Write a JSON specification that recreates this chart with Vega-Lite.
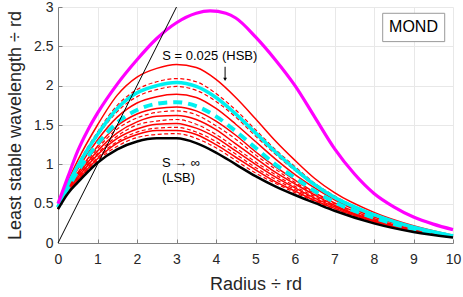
{
  "$schema": "https://vega.github.io/schema/vega-lite/v6.json",
  "width": 395,
  "height": 236,
  "autosize": {"type": "none"},
  "padding": {"left": 58, "top": 7, "right": 10, "bottom": 54},
  "background": "white",
  "datasets": {
    "curves": [
      {"x": 0, "HSB": 0.47, "d81": 0.46, "cy": 0.46, "d70": 0.46, "s60": 0.45, "cyd": 0.45, "s43": 0.45, "d37": 0.45, "s31": 0.44, "d25": 0.44, "s20": 0.44, "d15": 0.44, "s11": 0.43, "d06": 0.43, "LSB": 0.43},
      {"x": 0.25, "HSB": 0.78, "d81": 0.75, "cy": 0.74, "d70": 0.74, "s60": 0.72, "cyd": 0.70, "s43": 0.69, "d37": 0.69, "s31": 0.68, "d25": 0.67, "s20": 0.66, "d15": 0.65, "s11": 0.65, "d06": 0.64, "LSB": 0.63},
      {"x": 0.5, "HSB": 1.05, "d81": 1.00, "cy": 0.98, "d70": 0.97, "s60": 0.94, "cyd": 0.91, "s43": 0.89, "d37": 0.87, "s31": 0.86, "d25": 0.84, "s20": 0.83, "d15": 0.81, "s11": 0.80, "d06": 0.79, "LSB": 0.77},
      {"x": 1, "HSB": 1.50, "d81": 1.41, "cy": 1.38, "d70": 1.36, "s60": 1.31, "cyd": 1.26, "s43": 1.23, "d37": 1.20, "s31": 1.17, "d25": 1.14, "s20": 1.12, "d15": 1.09, "s11": 1.07, "d06": 1.05, "LSB": 1.02},
      {"x": 1.5, "HSB": 1.88, "d81": 1.75, "cy": 1.71, "d70": 1.67, "s60": 1.60, "cyd": 1.53, "s43": 1.49, "d37": 1.45, "s31": 1.40, "d25": 1.36, "s20": 1.33, "d15": 1.29, "s11": 1.27, "d06": 1.23, "LSB": 1.19},
      {"x": 2, "HSB": 2.11, "d81": 1.95, "cy": 1.91, "d70": 1.86, "s60": 1.78, "cyd": 1.69, "s43": 1.64, "d37": 1.59, "s31": 1.54, "d25": 1.50, "s20": 1.45, "d15": 1.41, "s11": 1.38, "d06": 1.34, "LSB": 1.29},
      {"x": 2.5, "HSB": 2.22, "d81": 2.05, "cy": 2.00, "d70": 1.95, "s60": 1.86, "cyd": 1.77, "s43": 1.71, "d37": 1.66, "s31": 1.61, "d25": 1.55, "s20": 1.51, "d15": 1.46, "s11": 1.43, "d06": 1.38, "LSB": 1.33},
      {"x": 3, "HSB": 2.27, "d81": 2.09, "cy": 2.04, "d70": 1.99, "s60": 1.89, "cyd": 1.79, "s43": 1.73, "d37": 1.68, "s31": 1.62, "d25": 1.57, "s20": 1.52, "d15": 1.47, "s11": 1.43, "d06": 1.39, "LSB": 1.33},
      {"x": 3.5, "HSB": 2.23, "d81": 2.05, "cy": 1.99, "d70": 1.94, "s60": 1.85, "cyd": 1.74, "s43": 1.68, "d37": 1.63, "s31": 1.57, "d25": 1.51, "s20": 1.46, "d15": 1.41, "s11": 1.38, "d06": 1.33, "LSB": 1.27},
      {"x": 4, "HSB": 2.08, "d81": 1.90, "cy": 1.85, "d70": 1.80, "s60": 1.71, "cyd": 1.61, "s43": 1.55, "d37": 1.49, "s31": 1.44, "d25": 1.38, "s20": 1.34, "d15": 1.29, "s11": 1.25, "d06": 1.21, "LSB": 1.15},
      {"x": 4.5, "HSB": 1.85, "d81": 1.69, "cy": 1.64, "d70": 1.60, "s60": 1.51, "cyd": 1.42, "s43": 1.37, "d37": 1.32, "s31": 1.26, "d25": 1.21, "s20": 1.17, "d15": 1.13, "s11": 1.09, "d06": 1.05, "LSB": 1.00},
      {"x": 5, "HSB": 1.58, "d81": 1.44, "cy": 1.40, "d70": 1.36, "s60": 1.29, "cyd": 1.21, "s43": 1.16, "d37": 1.12, "s31": 1.08, "d25": 1.03, "s20": 1.00, "d15": 0.96, "s11": 0.93, "d06": 0.89, "LSB": 0.85},
      {"x": 5.5, "HSB": 1.30, "d81": 1.19, "cy": 1.16, "d70": 1.13, "s60": 1.07, "cyd": 1.00, "s43": 0.97, "d37": 0.94, "s31": 0.90, "d25": 0.87, "s20": 0.84, "d15": 0.81, "s11": 0.78, "d06": 0.76, "LSB": 0.72},
      {"x": 6, "HSB": 1.05, "d81": 0.97, "cy": 0.94, "d70": 0.92, "s60": 0.87, "cyd": 0.83, "s43": 0.80, "d37": 0.77, "s31": 0.75, "d25": 0.72, "s20": 0.70, "d15": 0.68, "s11": 0.66, "d06": 0.64, "LSB": 0.61},
      {"x": 6.5, "HSB": 0.82, "d81": 0.76, "cy": 0.74, "d70": 0.73, "s60": 0.70, "cyd": 0.66, "s43": 0.64, "d37": 0.63, "s31": 0.61, "d25": 0.59, "s20": 0.57, "d15": 0.56, "s11": 0.54, "d06": 0.53, "LSB": 0.51},
      {"x": 7, "HSB": 0.64, "d81": 0.60, "cy": 0.58, "d70": 0.57, "s60": 0.55, "cyd": 0.52, "s43": 0.51, "d37": 0.50, "s31": 0.48, "d25": 0.47, "s20": 0.46, "d15": 0.44, "s11": 0.44, "d06": 0.42, "LSB": 0.41},
      {"x": 8, "HSB": 0.39, "d81": 0.36, "cy": 0.36, "d70": 0.35, "s60": 0.33, "cyd": 0.32, "s43": 0.31, "d37": 0.30, "s31": 0.29, "d25": 0.29, "s20": 0.28, "d15": 0.27, "s11": 0.27, "d06": 0.26, "LSB": 0.25},
      {"x": 9, "HSB": 0.22, "d81": 0.21, "cy": 0.20, "d70": 0.20, "s60": 0.19, "cyd": 0.18, "s43": 0.17, "d37": 0.17, "s31": 0.17, "d25": 0.16, "s20": 0.16, "d15": 0.15, "s11": 0.15, "d06": 0.15, "LSB": 0.14},
      {"x": 10, "HSB": 0.10, "d81": 0.09, "cy": 0.09, "d70": 0.09, "s60": 0.09, "cyd": 0.09, "s43": 0.08, "d37": 0.08, "s31": 0.08, "d25": 0.08, "s20": 0.08, "d15": 0.07, "s11": 0.07, "d06": 0.07, "LSB": 0.07}
    ],
    "mond": [
      {"x": 0, "y": 0.50}, {"x": 0.25, "y": 0.84}, {"x": 0.5, "y": 1.17}, {"x": 0.75, "y": 1.43},
      {"x": 1, "y": 1.65}, {"x": 1.5, "y": 2.02}, {"x": 2, "y": 2.33}, {"x": 2.5, "y": 2.60},
      {"x": 3, "y": 2.80}, {"x": 3.5, "y": 2.92}, {"x": 3.85, "y": 2.95}, {"x": 4.25, "y": 2.92},
      {"x": 4.5, "y": 2.86}, {"x": 5, "y": 2.62}, {"x": 5.5, "y": 2.33}, {"x": 6, "y": 2.00},
      {"x": 6.5, "y": 1.60}, {"x": 7, "y": 1.20}, {"x": 7.5, "y": 0.88}, {"x": 8, "y": 0.63},
      {"x": 8.5, "y": 0.46}, {"x": 9, "y": 0.33}, {"x": 9.5, "y": 0.24}, {"x": 10, "y": 0.17}
    ],
    "diag": [{"x": 0, "y": 0}, {"x": 3, "y": 3}]
  },
  "layer": [
    {
      "data": {"name": "curves"},
      "transform": [
        {"fold": ["HSB", "d81", "cy", "d70", "s60", "cyd", "s43", "d37", "s31", "d25", "s20", "d15", "s11", "d06", "LSB"], "as": ["curve", "y"]},
        {"filter": {"field": "curve", "oneOf": ["HSB", "s60", "s43", "s31", "s20", "s11"]}}
      ],
      "mark": {"type": "line", "color": "#ff0000", "strokeWidth": 1.5, "interpolate": "monotone"},
      "encoding": {
        "x": {"field": "x", "type": "quantitative", "scale": {"domain": [0, 10], "nice": false}, "title": "Radius ÷ rd"},
        "y": {"field": "y", "type": "quantitative", "scale": {"domain": [0, 3], "nice": false}, "title": "Least stable wavelength ÷ rd"},
        "detail": {"field": "curve"}
      }
    },
    {
      "data": {"name": "curves"},
      "transform": [
        {"fold": ["HSB", "d81", "cy", "d70", "s60", "cyd", "s43", "d37", "s31", "d25", "s20", "d15", "s11", "d06", "LSB"], "as": ["curve", "y"]},
        {"filter": {"field": "curve", "oneOf": ["d81", "d70", "d37", "d25", "d15", "d06"]}}
      ],
      "mark": {"type": "line", "color": "#ff0000", "strokeWidth": 1.2, "strokeDash": [4, 2.5], "interpolate": "monotone"},
      "encoding": {
        "x": {"field": "x", "type": "quantitative"},
        "y": {"field": "y", "type": "quantitative"},
        "detail": {"field": "curve"}
      }
    },
    {
      "data": {"name": "curves"},
      "transform": [
        {"fold": ["cy"], "as": ["curve", "y"]}
      ],
      "mark": {"type": "line", "color": "#00f0f0", "strokeWidth": 3.5, "interpolate": "monotone"},
      "encoding": {
        "x": {"field": "x", "type": "quantitative"},
        "y": {"field": "y", "type": "quantitative"}
      }
    },
    {
      "data": {"name": "curves"},
      "transform": [
        {"fold": ["cyd"], "as": ["curve", "y"]}
      ],
      "mark": {"type": "line", "color": "#00f0f0", "strokeWidth": 4, "strokeDash": [9, 6], "interpolate": "monotone"},
      "encoding": {
        "x": {"field": "x", "type": "quantitative"},
        "y": {"field": "y", "type": "quantitative"}
      }
    },
    {
      "data": {"name": "curves"},
      "transform": [
        {"fold": ["LSB"], "as": ["curve", "y"]}
      ],
      "mark": {"type": "line", "color": "#000000", "strokeWidth": 2.5, "interpolate": "monotone"},
      "encoding": {
        "x": {"field": "x", "type": "quantitative"},
        "y": {"field": "y", "type": "quantitative"}
      }
    },
    {
      "data": {"name": "mond"},
      "mark": {"type": "line", "color": "#ff00ff", "strokeWidth": 3.2, "interpolate": "monotone"},
      "encoding": {
        "x": {"field": "x", "type": "quantitative"},
        "y": {"field": "y", "type": "quantitative"}
      }
    },
    {
      "data": {"name": "diag"},
      "mark": {"type": "line", "color": "#000000", "strokeWidth": 1},
      "encoding": {
        "x": {"field": "x", "type": "quantitative"},
        "y": {"field": "y", "type": "quantitative"}
      }
    },
    {
      "data": {"values": [{}]},
      "mark": {"type": "text", "text": "S = 0.025 (HSB)", "align": "left", "baseline": "middle", "fontSize": 13, "color": "#000000"},
      "encoding": {"x": {"datum": 2.64}, "y": {"datum": 2.375}}
    },
    {
      "data": {"values": [{}]},
      "mark": {"type": "rule", "color": "#000000", "strokeWidth": 1},
      "encoding": {"x": {"datum": 4.23}, "y": {"datum": 2.24}, "y2": {"datum": 2.08}}
    },
    {
      "data": {"values": [{}]},
      "mark": {"type": "point", "shape": "triangle-down", "filled": true, "color": "#000000", "size": 14, "opacity": 1},
      "encoding": {"x": {"datum": 4.23}, "y": {"datum": 2.08}}
    },
    {
      "data": {"values": [{}]},
      "mark": {"type": "text", "text": "S → ∞", "align": "left", "baseline": "middle", "fontSize": 13, "color": "#000000"},
      "encoding": {"x": {"datum": 2.63}, "y": {"datum": 1.02}}
    },
    {
      "data": {"values": [{}]},
      "mark": {"type": "text", "text": "(LSB)", "align": "left", "baseline": "middle", "fontSize": 13, "color": "#000000"},
      "encoding": {"x": {"datum": 2.63}, "y": {"datum": 0.83}}
    },
    {
      "data": {"values": [{}]},
      "mark": {"type": "rect", "fill": "#ffffff", "stroke": "#999999", "strokeWidth": 1},
      "encoding": {"x": {"datum": 8.22}, "x2": {"datum": 9.79}, "y": {"datum": 2.92}, "y2": {"datum": 2.56}}
    },
    {
      "data": {"values": [{}]},
      "mark": {"type": "text", "text": "MOND", "align": "center", "baseline": "middle", "fontSize": 16, "color": "#000000"},
      "encoding": {"x": {"datum": 9.0}, "y": {"datum": 2.74}}
    }
  ],
  "config": {
    "font": "Liberation Sans",
    "view": {"stroke": null},
    "axis": {
      "grid": true,
      "gridColor": "#e8e8e8",
      "gridWidth": 1,
      "domainColor": "#808080",
      "domainWidth": 1,
      "tickColor": "#808080",
      "tickSize": -4,
      "labelColor": "#262626",
      "titleColor": "#262626",
      "labelFont": "Liberation Sans",
      "titleFont": "Liberation Sans",
      "labelFontSize": 14,
      "titleFontSize": 18,
      "titleFontWeight": "normal",
      "labelFlush": false,
      "labelOverlap": false
    },
    "axisX": {"values": [0, 1, 2, 3, 4, 5, 6, 7, 8, 9, 10], "labelPadding": 13, "titlePadding": 9},
    "axisY": {"values": [0, 0.5, 1, 1.5, 2, 2.5, 3], "format": "~g", "labelPadding": 9, "titlePadding": 9}
  }
}
